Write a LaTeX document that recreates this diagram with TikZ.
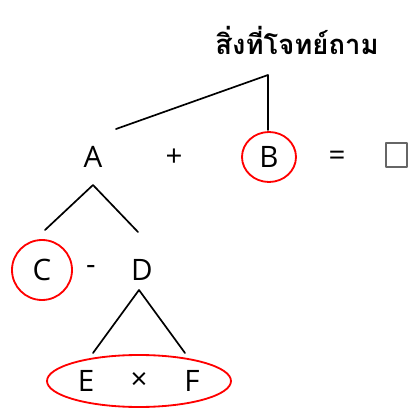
\documentclass[tikz,border=0pt]{standalone}
\usepackage{fontspec}
\setmainfont{Open Sans}
\newfontfamily\thaifont[Script=Thai]{Loma}
\begin{document}
\begin{tikzpicture}[x=.025cm,y=-.025cm,line join=round,line cap=round,font=\fontsize{21}{24}\selectfont,
	term/.style={inner sep=0pt,anchor=center},
	ring/.style={draw=red,line width=1.3pt}]
	\useasboundingbox (0,0) rectangle (410,408);
	% title
	\node[term,font=\fontsize{19.5}{23}\selectfont] (Q) at (297,40) {\thaifont\bfseries สิ่งที่โจทย์ถาม};
	\coordinate (Qtop) at (268,75);
	\coordinate (Aend) at (116,129);
	\coordinate (Bend) at (268,130);
	% top row
	\node[term] (A) at (93,157) {A};
	\node[term] (plus) at (174,158) {+};
	\node[term] (B) at (269,157) {B};
	\node[term] (eq) at (337,158) {=};
	\draw[gray!80!black,line width=.8pt] (386,143) rectangle (407,167);
	\draw[ring] (B) ellipse (27 and 25);
	\draw[line width=1.2pt] (Aend)--(Qtop)--(Bend);
	% A = C - D
	\coordinate (Atop) at (93,185);
	\coordinate (Cend) at (45,230);
	\coordinate (Dend) at (138,232);
	\draw[line width=1.2pt] (Cend)--(Atop)--(Dend);
	\node[term] (C) at (42,270) {C};
	\node[term] (minus) at (91,270) {-};
	\node[term] (D) at (142,270) {D};
	\draw[ring] (C) circle (30);
	% D = E x F
	\coordinate (Dtop) at (139,290);
	\coordinate (Eend) at (93,353);
	\coordinate (Fend) at (185,353);
	\draw[line width=1.2pt] (Eend)--(Dtop)--(Fend);
	\node[term] (E) at (86,381) {E};
	\node[term] (times) at (139,381) {×};
	\node[term] (F) at (192,381) {F};
	\draw[ring] (times) ellipse (92 and 26);
\end{tikzpicture}
\end{document}
